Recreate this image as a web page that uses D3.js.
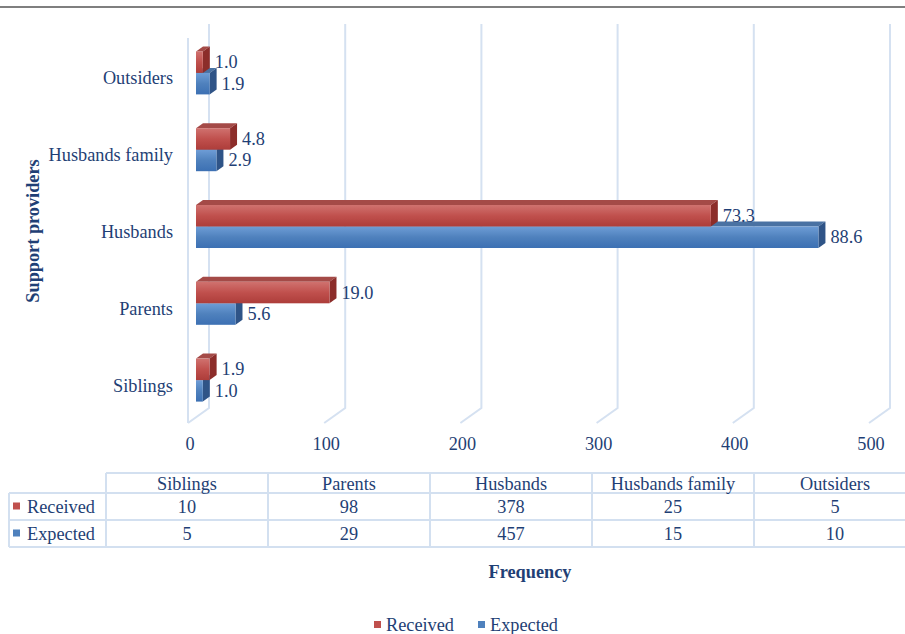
<!DOCTYPE html>
<html>
<head>
<meta charset="utf-8">
<script src="https://cdn.jsdelivr.net/npm/d3@7"></script>
<style>
  body { margin: 0; background: #fff; }
  svg text { font-family: "Liberation Serif", "Times New Roman", serif; fill: #1f3f75; }
</style>
</head>
<body>
<div id="chart"></div>
<script>
// categories in table order (bottom to top on the chart)
const categories = ["Siblings", "Parents", "Husbands", "Husbands family", "Outsiders"]
const received = [10, 98, 378, 25, 5]
const expected = [5, 29, 457, 15, 10]
const received_pct = [1.9, 19.0, 73.3, 4.8, 1.0]
const expected_pct = [1.0, 5.6, 88.6, 2.9, 1.9]
const x_ticks = [0, 100, 200, 300, 400, 500]

const width = 905
const height = 634
const font_size = "18.3px"

const svg = d3.select("#chart")
  .append("svg")
  .attr("width", width)
  .attr("height", height)

const defs = svg.append("defs")
const add_gradient = (id, stops) => {
  const g = defs.append("linearGradient")
    .attr("id", id)
    .attr("x1", 0).attr("y1", 0).attr("x2", 0).attr("y2", 1)
  stops.forEach(([o, c]) => g.append("stop").attr("offset", o).attr("stop-color", c))
}
add_gradient("red-front", [[0, "#d0726f"], [0.5, "#c0504d"], [1, "#ad3d3a"]])
add_gradient("blue-front", [[0, "#6e9dd6"], [0.5, "#4f81bd"], [1, "#3c70b3"]])

const series = [
  { name: "Expected", values: expected, pct: expected_pct, front: "url(#blue-front)", top: "#4a72a3", side: "#2f5487", key: "#4f81bd" },
  { name: "Received", values: received, pct: received_pct, front: "url(#red-front)", top: "#a44a47", side: "#8c2d2a", key: "#c0504d" }
]

// top border line
svg.append("line")
  .attr("x1", 0).attr("x2", width)
  .attr("y1", 7).attr("y2", 7)
  .attr("stroke", "#7f7f7f")
  .attr("stroke-width", 2)

const x = d3.scaleLinear().domain([0, 500]).range([196, 877])
const y = d3.scaleBand()
  .domain(categories.slice().reverse())
  .range([40, 424])

const back_dx = 13, front_dx = -8
const wall_top = 24, wall_bottom = 408, floor_front = 423

// back wall / floor gridlines
svg.append("g")
  .selectAll("path")
  .data(x_ticks)
  .join("path")
  .attr("d", d => {
    const bx = x(d) + back_dx
    return `M${bx},${wall_top} L${bx},${wall_bottom} L${x(d) + front_dx},${floor_front}`
  })
  .attr("fill", "none")
  .attr("stroke", "#d5e1f1")
  .attr("stroke-width", 2)

// left wall front edge
svg.append("line")
  .attr("x1", x(0) + front_dx).attr("x2", x(0) + front_dx)
  .attr("y1", 38).attr("y2", floor_front)
  .attr("stroke", "#d5e1f1")
  .attr("stroke-width", 2)

// tick labels
svg.append("g")
  .selectAll("text")
  .data(x_ticks)
  .join("text")
  .attr("x", d => x(d) + front_dx + 2)
  .attr("y", 444)
  .attr("text-anchor", "middle")
  .attr("dominant-baseline", "central")
  .style("font-size", font_size)
  .text(d => d)

// category labels
svg.append("g")
  .selectAll("text")
  .data(categories)
  .join("text")
  .attr("x", 173)
  .attr("y", d => y(d) + y.bandwidth() / 2)
  .attr("text-anchor", "end")
  .attr("dominant-baseline", "central")
  .style("font-size", font_size)
  .text(d => d)

// y axis title
svg.append("text")
  .attr("transform", "translate(33,231) rotate(-90)")
  .attr("text-anchor", "middle")
  .attr("dominant-baseline", "central")
  .style("font-size", font_size)
  .style("font-weight", "bold")
  .text("Support providers")

// 3d bars
const depth_x = 7, depth_y = 5, bar_h = 21.5
const bars = svg.append("g")
categories.forEach((cat, i) => {
  const cy = y(cat) + y.bandwidth() / 2 - 5.5
  series.forEach(s => {
    const top = s.name === "Received" ? cy - bar_h : cy
    const bottom = top + bar_h
    const x0 = x(0), x1 = x(s.values[i])
    bars.append("polygon")
      .attr("points", `${x0},${top} ${x0 + depth_x},${top - depth_y} ${x1 + depth_x},${top - depth_y} ${x1},${top}`)
      .attr("fill", s.top)
    bars.append("polygon")
      .attr("points", `${x1},${top} ${x1 + depth_x},${top - depth_y} ${x1 + depth_x},${bottom - depth_y} ${x1},${bottom}`)
      .attr("fill", s.side)
    bars.append("rect")
      .attr("x", x0).attr("y", top)
      .attr("width", x1 - x0).attr("height", bar_h)
      .attr("fill", s.front)
    bars.append("text")
      .attr("x", x1 + depth_x + 5)
      .attr("y", top + bar_h / 2)
      .attr("dominant-baseline", "central")
      .style("font-size", font_size)
      .text(s.pct[i].toFixed(1))
  })
})

// data table
const col = d3.scaleBand().domain(categories).range([106, 916])
const rows_y = [473, 493, 520, 547]
const grid_color = "#d3e0f0"
const table = svg.append("g")

table.append("line").attr("x1", 106).attr("x2", width).attr("y1", rows_y[0]).attr("y2", rows_y[0])
for (let r = 1; r < rows_y.length; r++) {
  table.append("line").attr("x1", 9).attr("x2", width).attr("y1", rows_y[r]).attr("y2", rows_y[r])
}
table.append("line").attr("x1", 9).attr("x2", 9).attr("y1", rows_y[1]).attr("y2", rows_y[3])
categories.forEach(c => {
  table.append("line").attr("x1", col(c)).attr("x2", col(c)).attr("y1", rows_y[0]).attr("y2", rows_y[3])
})
table.selectAll("line").attr("stroke", grid_color).attr("stroke-width", 2)

table.selectAll("text.head")
  .data(categories)
  .join("text")
  .attr("class", "head")
  .attr("x", d => col(d) + col.bandwidth() / 2)
  .attr("y", (rows_y[0] + rows_y[1]) / 2 + 1)
  .attr("text-anchor", "middle")
  .attr("dominant-baseline", "central")
  .style("font-size", font_size)
  .text(d => d)

const table_series = [series[1], series[0]]
table_series.forEach((s, r) => {
  const cy = (rows_y[r + 1] + rows_y[r + 2]) / 2
  table.append("rect")
    .attr("x", 13).attr("y", cy - 4)
    .attr("width", 7).attr("height", 7)
    .attr("fill", s.key)
  table.append("text")
    .attr("x", 27).attr("y", cy)
    .attr("dominant-baseline", "central")
    .style("font-size", font_size)
    .text(s.name)
  table.selectAll(`text.v${r}`)
    .data(s.values)
    .join("text")
    .attr("class", `v${r}`)
    .attr("x", (d, i) => col(categories[i]) + col.bandwidth() / 2)
    .attr("y", cy)
    .attr("text-anchor", "middle")
    .attr("dominant-baseline", "central")
    .style("font-size", font_size)
    .text(d => d)
})

// x axis title
svg.append("text")
  .attr("x", 530).attr("y", 572)
  .attr("text-anchor", "middle")
  .attr("dominant-baseline", "central")
  .style("font-size", font_size)
  .style("font-weight", "bold")
  .text("Frequency")

// legend
const legend = svg.append("g")
const legend_x = [374, 478]
table_series.forEach((s, i) => {
  legend.append("rect")
    .attr("x", legend_x[i]).attr("y", 621)
    .attr("width", 7).attr("height", 7)
    .attr("fill", s.key)
  legend.append("text")
    .attr("x", legend_x[i] + 12).attr("y", 625)
    .attr("dominant-baseline", "central")
    .style("font-size", font_size)
    .text(s.name)
})
</script>
</body>
</html>
